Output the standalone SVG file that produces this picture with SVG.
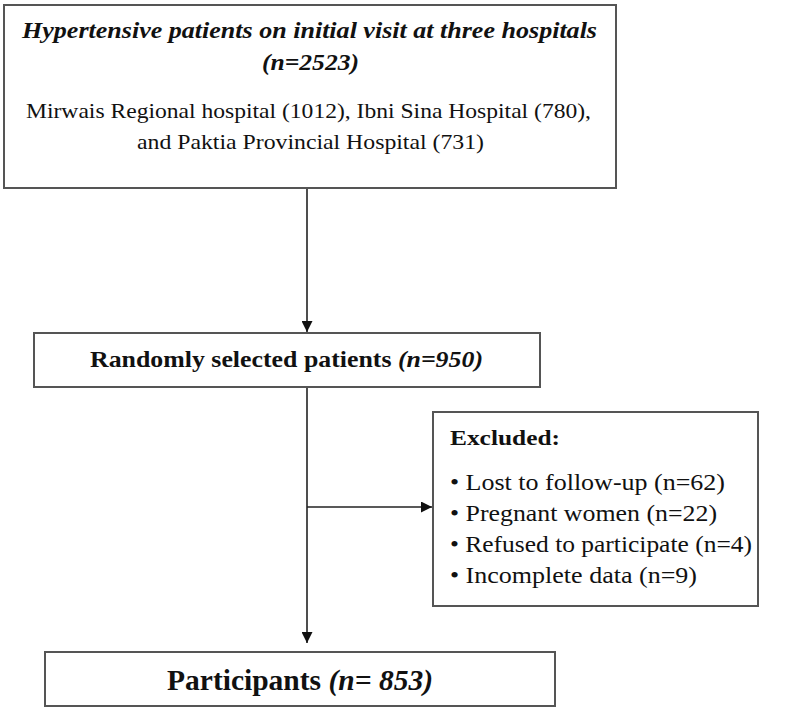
<svg xmlns="http://www.w3.org/2000/svg" width="800" height="707" viewBox="0 0 800 707">
<defs>
<marker id="ah" viewBox="0 0 10 10" refX="10" refY="5" markerWidth="12" markerHeight="11" markerUnits="userSpaceOnUse" orient="auto">
<path d="M0,0 L10,5 L0,10 Z" fill="#111"/>
</marker>
<style>
.box{fill:#fff;stroke:#555;stroke-width:2}
.t{font-family:"Liberation Serif","Times New Roman",serif;fill:#111}
.b{font-weight:bold}
.i{font-style:italic}
.c{stroke:#222;stroke-width:1.6;fill:none}
</style>
</defs>
<rect width="800" height="707" fill="#fff"/>
<g id="connectors">
<line class="c" x1="307" y1="188" x2="307" y2="332" marker-end="url(#ah)"/>
<line class="c" x1="307" y1="387" x2="307" y2="643" marker-end="url(#ah)"/>
<line class="c" x1="307" y1="507" x2="432" y2="507" marker-end="url(#ah)"/>
</g>
<g id="node-hypertensive">
<rect class="box" x="4" y="5" width="612" height="183"/>
<text class="t b i" x="22" y="38" font-size="24" textLength="575" lengthAdjust="spacingAndGlyphs">Hypertensive patients on initial visit at three hospitals</text>
<text class="t b i" x="262" y="70" font-size="24" textLength="97" lengthAdjust="spacingAndGlyphs">(n=2523)</text>
<text class="t" x="26" y="118" font-size="22" textLength="565" lengthAdjust="spacingAndGlyphs">Mirwais Regional hospital (1012), Ibni Sina Hospital (780),</text>
<text class="t" x="137" y="149" font-size="22" textLength="347" lengthAdjust="spacingAndGlyphs">and Paktia Provincial Hospital (731)</text>
</g>
<g id="node-random">
<rect class="box" x="34" y="333" width="506" height="54"/>
<text class="t b" x="90" y="367" font-size="23" textLength="393" lengthAdjust="spacingAndGlyphs">Randomly selected patients <tspan class="i">(n=950)</tspan></text>
</g>
<g id="node-excluded">
<rect class="box" x="433" y="412" width="325" height="194"/>
<text class="t b" x="450" y="445" font-size="22" textLength="110" lengthAdjust="spacingAndGlyphs">Excluded:</text>
<text class="t" x="450" y="490" font-size="24" textLength="275" lengthAdjust="spacingAndGlyphs">• Lost to follow-up (n=62)</text>
<text class="t" x="450" y="521" font-size="24" textLength="267" lengthAdjust="spacingAndGlyphs">• Pregnant women (n=22)</text>
<text class="t" x="450" y="552" font-size="24" textLength="302" lengthAdjust="spacingAndGlyphs">• Refused to participate (n=4)</text>
<text class="t" x="450" y="583" font-size="24" textLength="247" lengthAdjust="spacingAndGlyphs">• Incomplete data (n=9)</text>
</g>
<g id="node-participants">
<rect class="box" x="45" y="652" width="510" height="54"/>
<text class="t b" x="167" y="690" font-size="29" textLength="266" lengthAdjust="spacingAndGlyphs">Participants <tspan class="i">(n= 853)</tspan></text>
</g>
</svg>
